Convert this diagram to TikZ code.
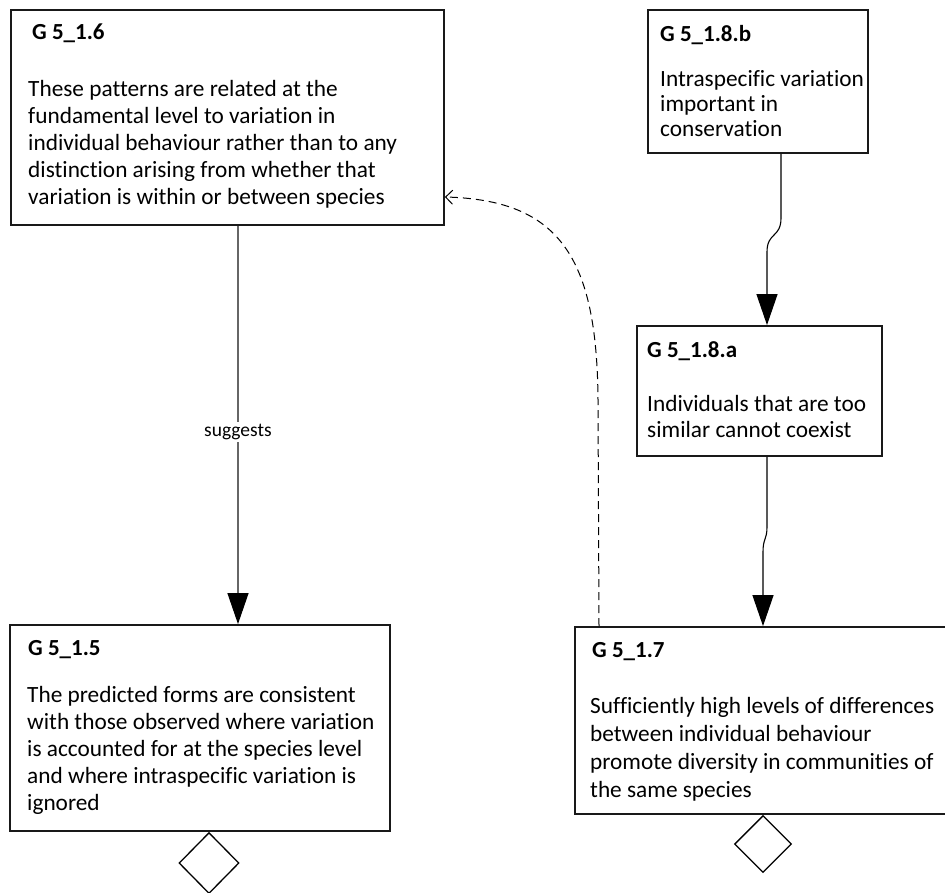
\documentclass[tikz,border=0pt]{standalone}
\usepackage{fontspec}
\setmainfont{Carlito}[Ligatures=CommonOff]
\usetikzlibrary{arrows.meta,shapes.geometric,calc}
\tikzset{
  box/.style={draw=black!90, line width=1.8pt, fill=white, rectangle, inner sep=0pt},
  ttl/.style={anchor=base west, inner sep=0pt, font=\bfseries\fontsize{23}{27}\selectfont},
  bodytext/.style={anchor=base west, inner sep=0pt, align=left},
  solidarrow/.style={draw=black, line width=1.1pt, -{Triangle[length=31pt,width=21pt,color=black]}},
  dasharrow/.style={draw=black, line width=1pt, dash pattern=on 8pt off 5pt, -{Straight Barb[length=7pt,width=14pt]}},
  endmark/.style={draw=black, line width=1.3pt, diamond, inner sep=0pt, fill=white},
}
\begin{document}
\begin{tikzpicture}[x=1pt,y=-1pt]
\useasboundingbox (0,0) rectangle (945,893);
% boxes
\node[box, minimum width=433pt, minimum height=215pt] (n16) at (227.5,117.5) {};
\node[box, minimum width=220pt, minimum height=143pt] (n18b) at (758,81.5) {};
\node[box, minimum width=245pt, minimum height=130pt] (n18a) at (759.5,391) {};
\node[box, minimum width=380pt, minimum height=206pt] (n15) at (200,728) {};
\node[box, minimum width=376pt, minimum height=187pt] (n17) at (763,720.5) {};
% texts (anchor = baseline of last line)
\node[ttl] (t16) at (32,40) {G 5\_1.6};
\node[bodytext, font=\fontsize{23.3}{27}\selectfont] (b16) at (28,205) {These patterns are related at the\\fundamental level to variation in\\individual behaviour rather than to any\\distinction arising from whether that\\variation is within or between species};
\node[ttl] (t18b) at (660,42) {G 5\_1.8.b};
\node[bodytext, font=\fontsize{23.3}{25}\selectfont] (b18b) at (660,137) {Intraspecific variation\\important in\\conservation};
\node[ttl] (t18a) at (647,357) {G 5\_1.8.a};
\node[bodytext, font=\fontsize{23.3}{26}\selectfont] (b18a) at (647,437) {Individuals that are too\\similar cannot coexist};
\node[ttl] (t15) at (28,655) {G 5\_1.5};
\node[bodytext, font=\fontsize{23.3}{27}\selectfont] (b15) at (27,810) {The predicted forms are consistent\\with those observed where variation\\is accounted for at the species level\\and where intraspecific variation is\\ignored};
\node[ttl] (t17) at (592,657) {G 5\_1.7};
\node[bodytext, font=\fontsize{23.3}{28}\selectfont] (b17) at (590,797) {Sufficiently high levels of differences\\between individual behaviour\\promote diversity in communities of\\the same species};
% diamonds
\node[endmark, minimum width=60pt, minimum height=61pt, anchor=north] (d15) at ($(n15.south)+(9,0)$) {};
\node[endmark, minimum width=57pt, minimum height=57pt, anchor=north] (d17) at (n17.south) {};
% connectors
\coordinate (s1) at ($(n16.south)+(10.5,0)$);
\draw[solidarrow, draw=black!60] (s1) -- node[pos=0.5175, fill=white, inner sep=2pt, text=black, font=\fontsize{19.5}{22}\selectfont] (lsug) {suggests} (s1 |- n15.north);
\coordinate (s2) at ($(n18b.south)+(23,0)$);
\coordinate (e2) at ($(n18a.north)+(7.5,0)$);
\draw[solidarrow] (s2) -- (781,218) .. controls (781,238) and (767,232) .. (767,252) -- (e2);
\coordinate (s3) at ($(n18a.south)+(7.5,0)$);
\draw[solidarrow] (s3) -- (767,527) .. controls (767,540) and (763,538) .. (763,552) -- (n17.north);
\coordinate (s4) at ($(n17.north)+(-164,0)$);
\coordinate (e4) at ($(n16.east)+(0,79.5)$);
\draw[dasharrow] (s4) -- (598,400) .. controls (597,258) and (560,200) .. (e4);
\end{tikzpicture}
\end{document}
